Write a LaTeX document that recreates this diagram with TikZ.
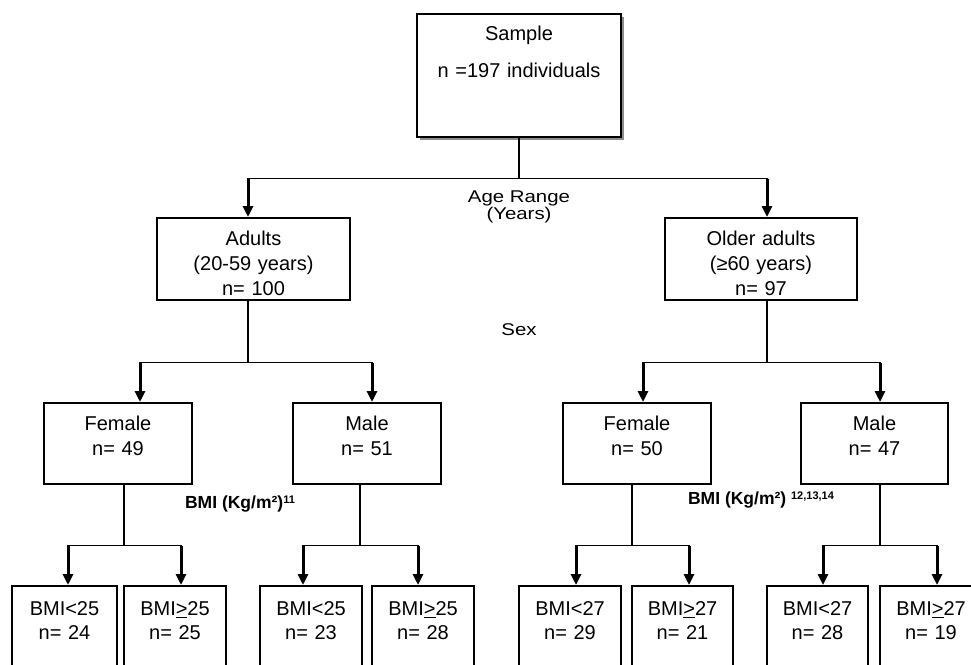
\documentclass[tikz,border=0pt]{standalone}
\usepackage{fontspec}
\setmainfont{Liberation Sans}
\usetikzlibrary{arrows.meta,positioning,shadows}

\newcommand{\bmiref}[1]{\raisebox{5pt}{\fontsize{11}{11}\selectfont #1}}
\newcommand{\widetext}[1]{\scalebox{1.2}[1]{#1}}

\begin{document}
\begin{tikzpicture}[
  x=1pt, y=1pt,
  box/.style={draw,line width=1.5pt,anchor=north,align=center,inner sep=0pt,font=\fontsize{20}{25}\selectfont},
  samplebox/.style={box,fill=white,text width=204pt,text height=27.2pt,text depth=95.8pt,
    drop shadow={shadow xshift=3pt,shadow yshift=-3pt,fill=black!45,opacity=1}},
  agebox/.style={box,text width=193pt,text height=28.2pt,text depth=53.8pt},
  sexbox/.style={box,text width=148pt,text height=28.2pt,text depth=52.8pt},
  bmibox/.style={box,text width=102pt,text height=30.2pt,text depth=84.8pt,font=\fontsize{20}{24}\selectfont},
  flow/.style={-{Triangle[width=10pt,length=11pt]},line width=3pt},
  link/.style={line width=1.7pt,line cap=rect},
  note/.style={align=center,font=\fontsize{17}{17}\selectfont},
  bminote/.style={font=\bfseries\fontsize{17.5}{17.5}\selectfont}
]
\useasboundingbox (0,0) rectangle (971,-664);
\clip (0,0) rectangle (971,-664);

% sample and age range
\node[samplebox] (sample) at (519,-13) {Sample\\[12pt]n =197 individuals};
\node[agebox] (adults) at (253.5,-217) {Adults\\(20-59 years)\\n= 100};
\node[agebox,text width=192pt] (older) at (761,-217) {Older adults\\(≥60 years)\\n= 97};
\node[note] (agerange) at (519,-207) {\widetext{Age Range}\\\widetext{(Years)}};

\path (sample.south) ++(0,-41) coordinate (agebar);
\coordinate (adultsin) at ([xshift=-5.5pt]adults.north);
\coordinate (olderin) at ([xshift=6pt]older.north);
\draw[link] (sample.south) -- (agebar);
\draw[link] (adultsin |- agebar) -- (olderin |- agebar);
\draw[flow] (adultsin |- agebar) -- (adultsin);
\draw[flow] (olderin |- agebar) -- (olderin);

% sex
\node[sexbox] (fa) at (118,-402) {Female\\n= 49};
\node[sexbox] (ma) at (367,-402) {Male\\n= 51};
\node[sexbox] (fo) at (637,-402) {Female\\n= 50};
\node[sexbox,text width=147pt] (mo) at (874.5,-402) {Male\\n= 47};
\node[note] (sex) at (519,-330) {\widetext{Sex}};

\coordinate (adultsout) at ([xshift=-5.5pt]adults.south);
\coordinate (olderout) at ([xshift=6pt]older.south);
\path (adultsout) ++(0,-62) coordinate (sexa);
\path (olderout) ++(0,-62) coordinate (sexo);
\coordinate (fain) at ([xshift=22pt]fa.north);
\coordinate (main) at ([xshift=5pt]ma.north);
\coordinate (foin) at ([xshift=6pt]fo.north);
\coordinate (moin) at ([xshift=5.5pt]mo.north);
\draw[link] (adultsout) -- (sexa);
\draw[link] (fain |- sexa) -- (main |- sexa);
\draw[flow] (fain |- sexa) -- (fain);
\draw[flow] (main |- sexa) -- (main);
\draw[link] (olderout) -- (sexo);
\draw[link] (foin |- sexo) -- (moin |- sexo);
\draw[flow] (foin |- sexo) -- (foin);
\draw[flow] (moin |- sexo) -- (moin);

% bmi
\node[bminote] (bmia) at (240,-504) {BMI (Kg/m²)\bmiref{11}};
\node[bminote] (bmio) at (761,-500) {BMI (Kg/m²) \bmiref{12,13,14}};
\node[bmibox,text width=105pt] (fa1) at (64.5,-585) {BMI<25\\n= 24};
\node[bmibox] (fa2) at (175,-585) {BMI\underline{>}25\\n= 25};
\node[bmibox] (ma1) at (311,-585) {BMI<25\\n= 23};
\node[bmibox] (ma2) at (423,-585) {BMI\underline{>}25\\n= 28};
\node[bmibox] (fo1) at (570,-585) {BMI<27\\n= 29};
\node[bmibox,text width=101pt] (fo2) at (682.5,-585) {BMI\underline{>}27\\n= 21};
\node[bmibox,text width=101pt] (mo1) at (817.5,-585) {BMI<27\\n= 28};
\node[bmibox] (mo2) at (931,-585) {BMI\underline{>}27\\n= 19};

\foreach \p/\px/\l/\lx/\r/\rx in {fa/6/fa1/3.5/fa2/6, ma/-7/ma1/-8/ma2/-5,
    fo/-5/fo1/6/fo2/6.5, mo/5.5/mo1/5.5/mo2/6}{
  \coordinate (\p out) at ([xshift=\px pt]\p.south);
  \path (\p out) ++(0,-61) coordinate (\p bar);
  \coordinate (\l in) at ([xshift=\lx pt]\l.north);
  \coordinate (\r in) at ([xshift=\rx pt]\r.north);
  \draw[link] (\p out) -- (\p bar);
  \draw[link] (\l in |- \p bar) -- (\r in |- \p bar);
  \draw[flow] (\l in |- \p bar) -- (\l in);
  \draw[flow] (\r in |- \p bar) -- (\r in);
}
\end{tikzpicture}
\end{document}
